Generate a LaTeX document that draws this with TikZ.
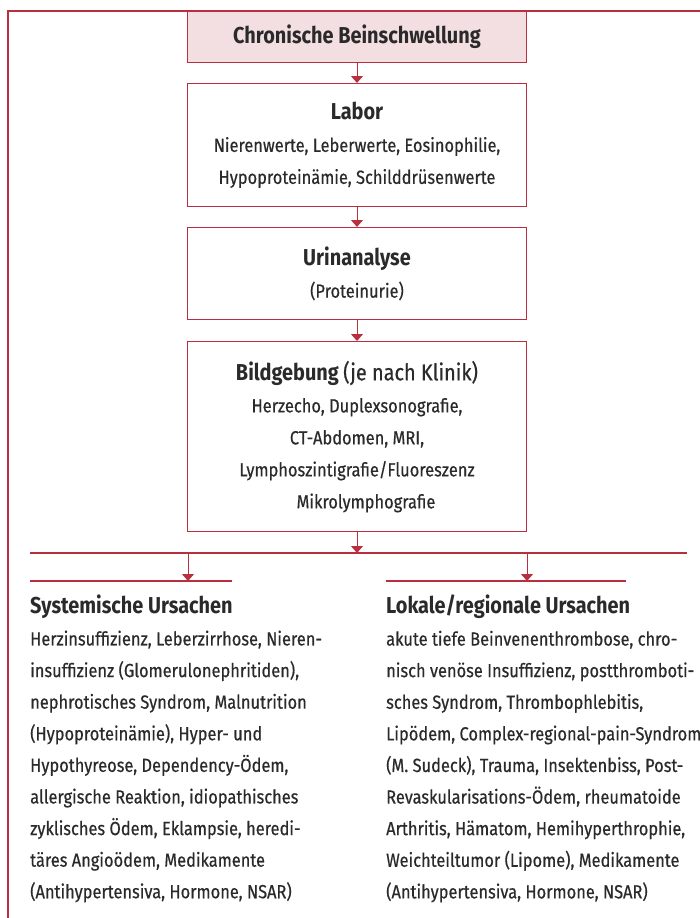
\documentclass[tikz,border=0pt]{standalone}
\usepackage{fontspec}
\setmainfont{Fira Sans}[FakeStretch=0.865, UprightFeatures={FakeBold=0.5}]
\usetikzlibrary{arrows.meta}
\definecolor{rd}{HTML}{B8303F}
\definecolor{pk}{HTML}{F3DEE1}
\definecolor{tx}{HTML}{2A2A2A}
\newcommand{\bodyfnt}{\fontsize{19}{32}\selectfont}
\newcommand{\colfnt}{\fontsize{19}{31.6}\selectfont}
\newcommand{\ttl}{\fontsize{23}{32}\selectfont}
\tikzset{
  box/.style={draw=rd, line width=1.3pt, minimum width=339pt, align=center,
    inner sep=0pt, text=tx, font=\bodyfnt, anchor=north},
  frameline/.style={draw=rd, line width=1.3pt},
  conn/.style={draw=rd, line width=1pt, -{Triangle[width=12pt,length=7pt]}},
  col/.style={anchor=north west, align=left, inner sep=0pt, text=tx, font=\colfnt}
}
\begin{document}
\begin{tikzpicture}[x=1pt,y=-1pt]
\useasboundingbox (0,0) rectangle (700,918);
% frame
\coordinate (fTR) at (700,11);
\coordinate (fTL) at (8,11);
\coordinate (fBL) at (8,918);
\draw[frameline] (fTR) -- (fTL) -- (fBL);
% boxes
\node[box, fill=pk, minimum height=51pt] (top) at (357,11)
  {\ttl\bfseries Chronische Beinschwellung};
\node[box, minimum height=123pt] (labor) at (357,83)
  {{\ttl\bfseries Labor}\\Nierenwerte, Leberwerte, Eosinophilie,\\Hypoproteinämie, Schilddrüsenwerte};
\node[box, minimum height=92pt] (urin) at (357,227)
  {{\ttl\bfseries Urinanalyse}\\(Proteinurie)};
\node[box, minimum height=190pt] (bild) at (357,341)
  {{\ttl\bfseries Bildgebung} {\ttl(je nach Klinik)}\\Herzecho, Duplexsonografie,\\CT-Abdomen, MRI,\\Lymphoszintigrafie/Fluoreszenz\\\hspace*{18pt}Mikrolymphografie};
% connectors
\draw[conn] (top.south) -- (labor.north);
\draw[conn] (labor.south) -- (urin.north);
\draw[conn] (urin.south) -- (bild.north);
\coordinate (hL) at (30,553);
\coordinate (hR) at (687,553);
\coordinate (hM) at (bild.south |- hL);
\draw[conn] (bild.south) -- (hM);
\draw[frameline] (hL) -- (hR);
\coordinate (sL) at (30,581);
\coordinate (sR) at (232,581);
\coordinate (rL) at (386,581);
\coordinate (rR) at (626,581);
\draw[frameline] (sL) -- (sR);
\draw[frameline] (rL) -- (rR);
\coordinate (aS) at (188,553);
\coordinate (aSe) at (188,581);
\coordinate (aR) at (527,553);
\coordinate (aRe) at (527,581);
\draw[conn] (aS) -- (aSe);
\draw[conn] (aR) -- (aRe);
% columns
\node[col] (sys) at (30,595)
  {{\ttl\bfseries Systemische Ursachen}\\
   Herzinsuffizienz, Leberzirrhose, Nieren-\\
   insuffizienz (Glomerulonephritiden),\\
   nephrotisches Syndrom, Malnutrition\\
   (Hypoproteinämie), Hyper- und\\
   Hypothyreose, Dependency-Ödem,\\
   allergische Reaktion, idiopathisches\\
   zyklisches Ödem, Eklampsie, heredi-\\
   täres Angioödem, Medikamente\\
   (Antihypertensiva, Hormone, NSAR)};
\node[col] (lok) at (386,595)
  {{\ttl\bfseries Lokale/regionale Ursachen}\\
   akute tiefe Beinvenenthrombose, chro-\\
   nisch venöse Insuffizienz, postthromboti-\\
   sches Syndrom, Thrombophlebitis,\\
   Lipödem, Complex-regional-pain-Syndrom\\
   (M. Sudeck), Trauma, Insektenbiss, Post-\\
   Revaskularisations-Ödem, rheumatoide\\
   Arthritis, Hämatom, Hemihyperthrophie,\\
   Weichteiltumor (Lipome), Medikamente\\
   (Antihypertensiva, Hormone, NSAR)};
\end{tikzpicture}
\end{document}
